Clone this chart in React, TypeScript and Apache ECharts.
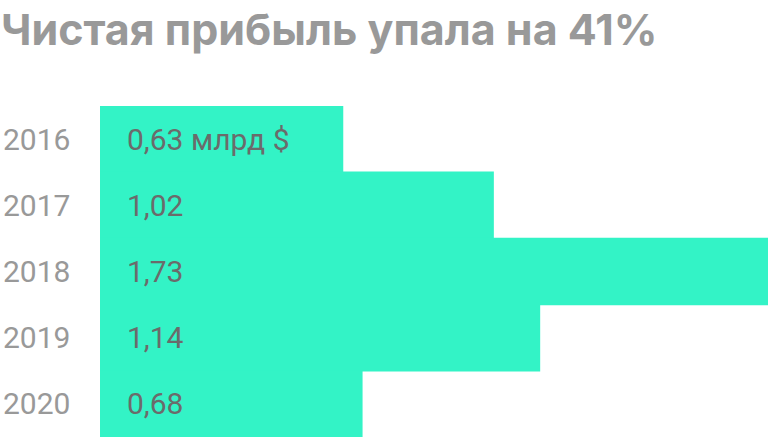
import React, { useEffect, useRef } from 'react'
import * as echarts from 'echarts'

const years = ['2016', '2017', '2018', '2019', '2020']
const profit = [0.63, 1.02, 1.73, 1.14, 0.68]
const title = 'Чистая прибыль упала на 41%'

const App: React.FC = () => {
  const chartRef = useRef<HTMLDivElement>(null)

  useEffect(() => {
    document.body.style.margin = '0'
    if (!chartRef.current) return
    const chart = echarts.init(chartRef.current, null, { renderer: 'svg' })

    const option: echarts.EChartsOption = {
      animation: false,
      title: {
        text: title,
        left: 1,
        top: 7,
        padding: 0,
        textStyle: {
          fontFamily: 'Inter',
          fontSize: 43,
          fontWeight: 'bold',
          color: '#999999'
        }
      },
      grid: { left: 98, right: 0, top: 106, bottom: 0 },
      xAxis: {
        type: 'value',
        min: 0,
        max: 1.73,
        show: false
      },
      yAxis: {
        type: 'category',
        data: years,
        inverse: true,
        axisLine: { show: false },
        axisTick: { show: false },
        splitLine: { show: false },
        axisLabel: {
          align: 'left',
          margin: 97,
          fontFamily: 'Roboto',
          fontSize: 30,
          color: '#999999'
        }
      },
      series: [
        {
          type: 'bar',
          data: profit,
          barWidth: '102%',
          itemStyle: { color: '#33F3C6' },
          label: {
            show: true,
            position: 'insideLeft',
            distance: 27,
            fontFamily: 'Roboto',
            fontSize: 30,
            color: '#6b6b6b',
            formatter: (p: any) => {
              const s = p.value.toFixed(2).replace('.', ',')
              return p.dataIndex === 0 ? s + ' млрд $' : s
            }
          }
        }
      ]
    }

    chart.setOption(option)
    return () => chart.dispose()
  }, [])

  return <div ref={chartRef} style={{ width: 768, height: 437 }} />
}

export default App
